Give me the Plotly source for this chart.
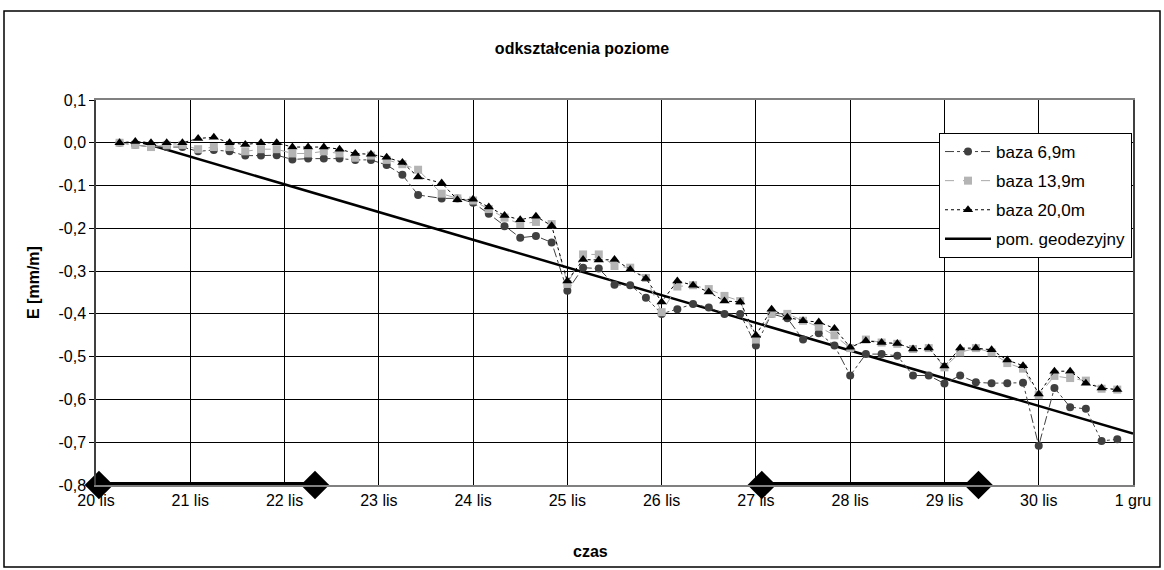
import plotly.graph_objects as go
import pandas as pd

# sampling schedule (4-hour readings, one 6-hour gap on 23 lis)
times_a = pd.date_range("2007-11-20 06:00", "2007-11-23 10:00", freq="4h")
times_b = pd.date_range("2007-11-23 16:00", "2007-11-30 20:00", freq="4h")
times = list(times_a) + list(times_b)

baza_69 = [
    0.0, -0.005, -0.01, -0.01, -0.01, -0.02, -0.017, -0.02, -0.03, -0.03,
    -0.029, -0.039, -0.037, -0.037, -0.037, -0.04, -0.04, -0.052, -0.075, -0.122,
    -0.13, -0.13, -0.14, -0.166, -0.195, -0.222, -0.218, -0.233, -0.346, -0.292,
    -0.294, -0.332, -0.333, -0.362, -0.40, -0.389, -0.377, -0.385, -0.40, -0.40,
    -0.474, -0.40, -0.41, -0.46, -0.445, -0.474, -0.544, -0.494, -0.494, -0.498,
    -0.544, -0.544, -0.563, -0.544, -0.56, -0.562, -0.562, -0.561, -0.708, -0.573,
    -0.618, -0.622, -0.697, -0.693,
]
baza_139 = [
    0.0, -0.005, -0.01, -0.005, -0.005, -0.015, -0.01, -0.01, -0.02, -0.015,
    -0.015, -0.025, -0.025, -0.02, -0.025, -0.035, -0.03, -0.04, -0.05, -0.063,
    -0.119, -0.13, -0.135, -0.155, -0.175, -0.19, -0.185, -0.19, -0.33, -0.261,
    -0.261, -0.288, -0.292, -0.316, -0.396, -0.336, -0.333, -0.342, -0.358, -0.37,
    -0.46, -0.40, -0.40, -0.416, -0.43, -0.45, -0.48, -0.46, -0.467, -0.47,
    -0.482, -0.48, -0.525, -0.49, -0.48, -0.49, -0.515, -0.528, -0.59, -0.545,
    -0.55, -0.556, -0.575, -0.577,
]
baza_200 = [
    0.0, 0.003, 0.0, 0.0, 0.0, 0.01, 0.013, 0.0, -0.004, 0.0,
    0.0, -0.01, -0.01, -0.01, -0.015, -0.025, -0.027, -0.034, -0.046, -0.08,
    -0.094, -0.133, -0.132, -0.15, -0.17, -0.18, -0.172, -0.194, -0.323, -0.273,
    -0.274, -0.273, -0.296, -0.317, -0.372, -0.323, -0.333, -0.349, -0.37, -0.372,
    -0.45, -0.389, -0.408, -0.416, -0.419, -0.434, -0.478, -0.463, -0.467, -0.469,
    -0.482, -0.48, -0.522, -0.48, -0.48, -0.484, -0.508, -0.521, -0.587, -0.534,
    -0.534, -0.562, -0.573, -0.577,
]

geo_t = ["2007-11-20 12:00", "2007-12-01 00:00"]
geo_v = [0.0, -0.68]

period1_t = ["2007-11-20 00:45", "2007-11-22 07:45"]
period2_t = ["2007-11-27 01:30", "2007-11-29 08:40"]
period_level = -0.8

day_ticks = ["2007-11-%02d" % d for d in range(20, 31)] + ["2007-12-01"]
day_labels = ["%d lis" % d for d in range(20, 31)] + ["1 gru"]

y_ticks = [0.1, 0.0, -0.1, -0.2, -0.3, -0.4, -0.5, -0.6, -0.7, -0.8]
y_labels = ["0,1", "0,0", "-0,1", "-0,2", "-0,3", "-0,4", "-0,5", "-0,6", "-0,7", "-0,8"]

FONT = "Liberation Sans, Arial, sans-serif"

fig = go.Figure()

fig.add_trace(go.Scatter(
    x=geo_t, y=geo_v, mode="lines", name="pom. geodezyjny",
    line=dict(color="black", width=2.5), legendgroup="g4", legendrank=4,
))
fig.add_trace(go.Scatter(
    x=times, y=baza_69, mode="lines+markers", name="baza 6,9m",
    line=dict(color="#404040", width=1, dash="dashdot"),
    marker=dict(symbol="circle", size=8, color="#404040"),
    legendgroup="g1", legendrank=1,
))
fig.add_trace(go.Scatter(
    x=times, y=baza_139, mode="lines+markers", name="baza 13,9m",
    line=dict(color="#a8a8a8", width=1, dash="dash"),
    marker=dict(symbol="square", size=8, color="#b4b4b4"),
    legendgroup="g2", legendrank=2,
))
fig.add_trace(go.Scatter(
    x=times, y=baza_200, mode="lines+markers", name="baza 20,0m",
    line=dict(color="black", width=1, dash="dot"),
    marker=dict(symbol="triangle-up", size=9, color="black"),
    legendgroup="g3", legendrank=3,
))
for pt in (period1_t, period2_t):
    fig.add_trace(go.Scatter(
        x=pt, y=[period_level, period_level], mode="lines+markers",
        line=dict(color="black", width=6),
        marker=dict(symbol="diamond", size=22, color="black"),
        showlegend=False, cliponaxis=False, hoverinfo="skip",
    ))

W, H = 1164, 570
L, T = 96, 100
R = W - 1133
B = H - 485
pw, ph = W - L - R, H - T - B

def px_x(p):
    return (p - L) / pw

def px_y(p):
    return (H - B - p) / ph

fig.update_layout(
    width=W, height=H,
    margin=dict(l=L, r=R, t=T, b=B),
    paper_bgcolor="white", plot_bgcolor="white",
    font=dict(family=FONT, size=16, color="black"),
    title=dict(text="<b>odkształcenia poziome</b>", x=582 / W, xref="container",
               y=1 - 48 / H, yref="container", yanchor="middle", xanchor="center",
               font=dict(size=16)),
    showlegend=True,
    legend=dict(x=px_x(939), y=px_y(133), xanchor="left", yanchor="top",
                bgcolor="white", bordercolor="black", borderwidth=1,
                font=dict(size=17), traceorder="grouped", tracegroupgap=4,
                itemwidth=46),
    xaxis=dict(type="date", range=[day_ticks[0], day_ticks[-1]],
               tickvals=day_ticks, ticktext=day_labels,
               showgrid=True, gridcolor="black", gridwidth=1,
               showline=True, linecolor="#808080", linewidth=1.5, mirror=True,
               ticks="", zeroline=False, tickfont=dict(size=16)),
    yaxis=dict(range=[-0.8, 0.1], tickvals=y_ticks, ticktext=y_labels,
               showgrid=True, gridcolor="black", gridwidth=1,
               showline=True, linecolor="#404040", linewidth=1.5, mirror=True,
               ticks="outside", ticklen=5, tickcolor="black",
               zeroline=False, tickfont=dict(size=16)),
    annotations=[
        dict(text="<b>czas</b>", xref="paper", yref="paper", x=px_x(590), y=px_y(551),
             showarrow=False, font=dict(size=16), xanchor="center", yanchor="middle"),
        dict(text="<b>E [mm/m]</b>", xref="paper", yref="paper", x=px_x(33), y=px_y(283),
             showarrow=False, font=dict(size=16), textangle=-90,
             xanchor="center", yanchor="middle"),
    ],
    shapes=[dict(type="rect", xref="paper", yref="paper",
                 x0=px_x(4), x1=px_x(1160), y0=px_y(567), y1=px_y(11),
                 line=dict(color="black", width=1.5), layer="below")],
)

fig.write_html(
    "out.html",
    config={"displayModeBar": False},
    post_script="document.body.style.margin='0';document.body.style.overflow='hidden';",
)
